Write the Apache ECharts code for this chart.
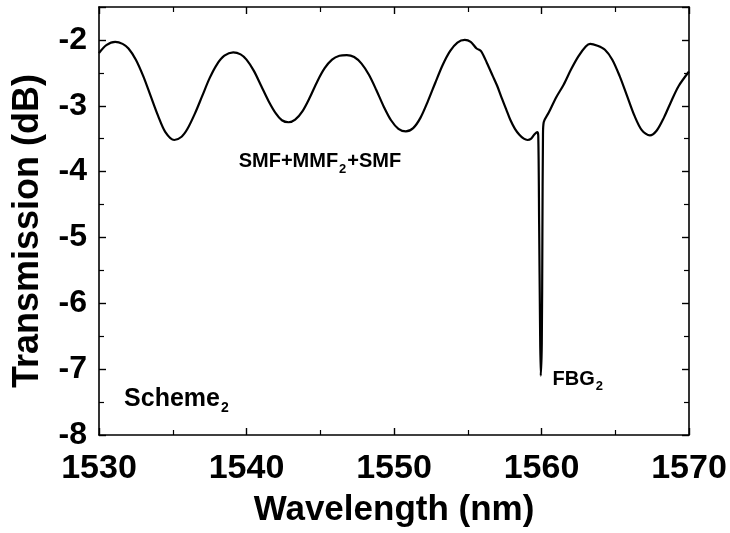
<!DOCTYPE html>
<html>
<head>
<meta charset="utf-8">
<script src="https://cdn.jsdelivr.net/npm/echarts@6/dist/echarts.min.js"></script>
<style>
  html, body { margin: 0; padding: 0; background: #fff; }
  #chart { width: 730px; height: 533px; }
</style>
</head>
<body>
<div id="chart"></div>
<script>
// Transmission spectrum of the SMF + MMF2 + SMF structure with FBG2 notch
const wavelength = [
  1530.0, 1530.5, 1531.1, 1531.6, 1532.0, 1532.5, 1533.0, 1533.5, 1534.0, 1534.5,
  1535.1, 1535.6, 1536.0, 1536.5, 1537.0, 1537.5, 1538.0, 1538.5, 1539.1, 1539.6,
  1540.0, 1540.5, 1541.0, 1541.5, 1542.0, 1542.4, 1542.85, 1543.3, 1543.8, 1544.3,
  1544.8, 1545.3, 1545.8, 1546.3, 1546.8, 1547.3, 1547.8, 1548.3, 1548.8, 1549.3,
  1549.8, 1550.3, 1550.8, 1551.3, 1551.8, 1552.3, 1552.8, 1553.3, 1553.8, 1554.3,
  1554.8, 1555.2, 1555.6, 1555.9, 1556.3, 1556.7, 1557.0, 1557.3, 1557.6, 1557.9,
  1558.2, 1558.5, 1558.8, 1559.05, 1559.3, 1559.5, 1559.7, 1559.78, 1559.84, 1559.9,
  1559.95, 1560.02, 1560.06, 1560.1, 1560.15, 1560.5, 1561.0, 1561.5, 1562.0, 1562.5,
  1563.0, 1563.3, 1563.8, 1564.3, 1564.8, 1565.3, 1565.8, 1566.3, 1566.8, 1567.35,
  1567.8, 1568.3, 1568.8, 1569.3, 1570.0
];
const transmission = [
  -2.20, -2.08, -2.03, -2.06, -2.13, -2.30, -2.55, -2.85, -3.15, -3.40,
  -3.52, -3.47, -3.35, -3.12, -2.85, -2.58, -2.37, -2.24, -2.19, -2.22,
  -2.30, -2.47, -2.70, -2.93, -3.12, -3.22, -3.25, -3.21, -3.08, -2.87,
  -2.63, -2.43, -2.30, -2.24, -2.23, -2.26, -2.36, -2.53, -2.76, -3.01,
  -3.22, -3.35, -3.39, -3.34, -3.18, -2.93, -2.65, -2.38, -2.17, -2.04,
  -2.00, -2.03, -2.13, -2.17, -2.35, -2.55, -2.70, -2.88, -3.05, -3.22,
  -3.35, -3.44, -3.50, -3.52, -3.50, -3.44, -3.40, -3.45, -4.80, -6.30,
  -7.10, -6.60, -5.00, -3.45, -3.25, -3.10, -2.87, -2.68, -2.45, -2.25,
  -2.10, -2.06, -2.09, -2.15, -2.30, -2.55, -2.85, -3.15, -3.37, -3.45,
  -3.38, -3.18, -2.93, -2.70, -2.48
];

const xTicks = [1530, 1540, 1550, 1560, 1570];
const yTicks = [-8, -7, -6, -5, -4, -3, -2];

// Annotation anchors in data units: [wavelength, transmission]
const fiberLabelAt = [1544.98, -3.85];
const schemeLabelAt = [1531.7, -7.45];
const fbgLabelAt = [1560.75, -7.15];

const curve = wavelength.map((w, i) => [w, transmission[i]]);

const FONT = '"Liberation Sans", Arial, sans-serif';

const chart = echarts.init(document.getElementById('chart'), null, { renderer: 'canvas' });

const axisLine = { show: true, lineStyle: { color: '#000', width: 1.6 } };
const axisTick = { show: true, inside: true, length: 7, lineStyle: { color: '#000', width: 1.4 } };
const minorTick = { show: true, splitNumber: 2, length: 5, lineStyle: { color: '#000', width: 1.2 } };

chart.setOption({
  animation: false,
  backgroundColor: '#fff',
  grid: { left: 99, right: 41, top: 7, bottom: 89, containLabel: false },
  xAxis: [
    {
      type: 'value', min: 1530, max: 1570, interval: 10,
      axisLine, axisTick, minorTick,
      splitLine: { show: false },
      axisLabel: {
        color: '#000', fontFamily: FONT, fontWeight: 'bold', fontSize: 34, margin: 17,
        formatter: v => xTicks.includes(v) ? String(v) : ''
      },
      name: 'Wavelength (nm)', nameLocation: 'middle', nameGap: 58,
      nameTextStyle: { color: '#000', fontFamily: FONT, fontWeight: 'bold', fontSize: 35 }
    },
    {
      type: 'value', position: 'top', min: 1530, max: 1570, interval: 10,
      axisLine, axisTick, minorTick,
      splitLine: { show: false }, axisLabel: { show: false }
    }
  ],
  yAxis: [
    {
      type: 'value', min: -8, max: -1.5, interval: 1,
      axisLine, axisTick, minorTick,
      splitLine: { show: false },
      axisLabel: {
        color: '#000', fontFamily: FONT, fontWeight: 'bold', fontSize: 32, margin: 12,
        formatter: v => yTicks.includes(v) ? String(v) : ''
      },
      name: 'Transmission (dB)', nameLocation: 'middle', nameGap: 53,
      nameTextStyle: {
        color: '#000', fontFamily: FONT, fontWeight: 'bold', fontSize: 36,
        padding: [0, 20, 0, 0]
      }
    },
    {
      type: 'value', position: 'right', min: -8, max: -1.5, interval: 1,
      axisLine, axisTick, minorTick,
      splitLine: { show: false }, axisLabel: { show: false }
    }
  ],
  series: [
    {
      type: 'line',
      data: curve,
      showSymbol: false,
      smooth: 0.3,
      lineStyle: { color: '#000', width: 2.2 },
      z: 3
    }
  ]
});

// Text annotations placed at data coordinates
const rich = {
  m: { fontFamily: FONT, fontWeight: 'bold', fontSize: 20, fill: '#000' },
  s: { fontFamily: FONT, fontWeight: 'bold', fontSize: 13, fill: '#000', padding: [15, 1, 0, 1] },
  b: { fontFamily: FONT, fontWeight: 'bold', fontSize: 25, fill: '#000' },
  bs: { fontFamily: FONT, fontWeight: 'bold', fontSize: 14, fill: '#000', padding: [18, 0, 0, 1] }
};
function note(at, text, align) {
  const p = chart.convertToPixel({ xAxisIndex: 0, yAxisIndex: 0 }, at);
  return {
    type: 'text', x: p[0], y: p[1], z: 10,
    style: { text, rich, fill: '#000', align, verticalAlign: 'middle' }
  };
}
chart.setOption({
  graphic: [
    note(fiberLabelAt, '{m|SMF+MMF}{s|2}{m|+SMF}', 'center'),
    note(schemeLabelAt, '{b|Scheme}{bs|2}', 'left'),
    note(fbgLabelAt, '{m|FBG}{s|2}', 'left')
  ]
});
</script>
</body>
</html>
